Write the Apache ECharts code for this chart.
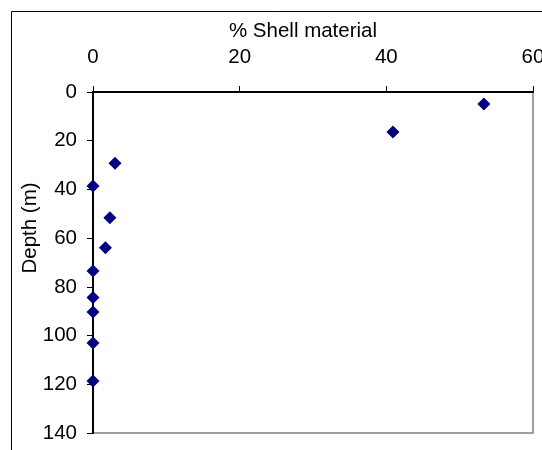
<!DOCTYPE html>
<html>
<head>
<meta charset="utf-8">
<script src="https://cdn.jsdelivr.net/npm/echarts@6/dist/echarts.min.js"></script>
<style>
  html, body { margin: 0; padding: 0; background: #fff; }
  #chart { width: 542px; height: 450px; }
</style>
</head>
<body>
<div id="chart"></div>
<script>
// Shell content of the sediment against sample depth
const shellPercent = [53.3, 40.9, 3.0, 0, 2.3, 1.7, 0, 0, 0, 0, 0];
const depthMetres  = [4.9, 16.4, 29.3, 38.6, 51.6, 63.9, 73.5, 84.4, 90.3, 103.1, 118.7];
const xTicks = { min: 0, max: 60, step: 20 };
const yTicks = { min: 0, max: 140, step: 20 };

const font = "'Liberation Sans', Arial, sans-serif";
const fontSize = 20.5;
const points = shellPercent.map((v, i) => [v, depthMetres[i]]);

const chart = echarts.init(document.getElementById('chart'), null, { renderer: 'canvas' });
chart.setOption({
  animation: false,
  backgroundColor: '#fff',
  grid: {
    left: 93, top: 92, right: 9, bottom: 17,
    containLabel: false, outerBoundsMode: 'none',
    show: true, borderColor: '#808080', borderWidth: 1.5, backgroundColor: 'transparent'
  },
  graphic: [
    { type: 'rect', shape: { x: 11.5, y: 11.5, width: 700, height: 700 },
      style: { fill: 'none', stroke: '#000', lineWidth: 1 }, silent: true, z: -1 },
    { type: 'text', x: 303, y: 31,
      style: { text: '% Shell material', font: fontSize + 'px ' + font, fill: '#000',
               textAlign: 'center', textVerticalAlign: 'middle' } },
    { type: 'text', x: 30, y: 228, rotation: Math.PI / 2,
      style: { text: 'Depth (m)', font: fontSize + 'px ' + font, fill: '#000',
               textAlign: 'center', textVerticalAlign: 'middle' } }
  ],
  xAxis: {
    type: 'value', position: 'top',
    min: xTicks.min, max: xTicks.max, interval: xTicks.step,
    axisLine: { show: true, lineStyle: { color: '#000', width: 2 } },
    axisTick: { show: true, inside: false, length: 6, lineStyle: { color: '#000', width: 1 } },
    axisLabel: { color: '#000', fontSize: fontSize, fontFamily: font, margin: 24 },
    splitLine: { show: false }
  },
  yAxis: {
    type: 'value', inverse: true,
    min: yTicks.min, max: yTicks.max, interval: yTicks.step,
    axisLine: { show: true, lineStyle: { color: '#000', width: 2 } },
    axisTick: { show: true, inside: false, length: 6, lineStyle: { color: '#000', width: 1 } },
    axisLabel: { color: '#000', fontSize: fontSize, fontFamily: font, margin: 16 },
    splitLine: { show: false }
  },
  series: [{
    type: 'scatter',
    data: points,
    symbol: 'diamond',
    symbolSize: 13,
    itemStyle: { color: '#000080', opacity: 1 },
    z: 5
  }]
});
</script>
</body>
</html>
